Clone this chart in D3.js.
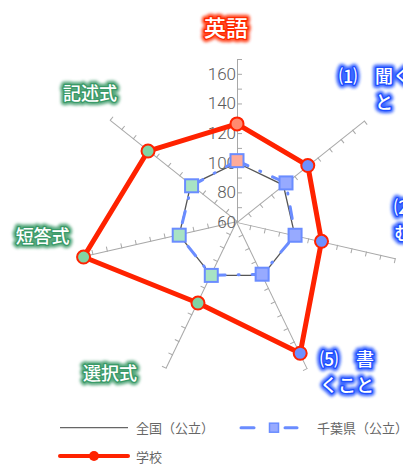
<!DOCTYPE html>
<html><head><meta charset="utf-8">
<script src="https://cdn.jsdelivr.net/npm/d3@7/dist/d3.min.js"></script>
<style>
html,body{margin:0;padding:0;background:#fff;}
svg{display:block;}
</style></head>
<body>
<svg id="chart" width="403" height="466"></svg>
<script>
// ---- data ----
const indicators = ["英語", "⑴　聞くこと", "⑵　読むこと", "⑸　書くこと", "選択式", "短答式", "記述式"];
const groups = ["total", "kanten", "kanten", "kanten", "keishiki", "keishiki", "keishiki"];
const zenkoku = [100, 100, 100, 100, 100, 100, 100];
const chiba = [101.4, 102.3, 100.2, 99.1, 100.0, 100.0, 99.2];
const school = [126.2, 121.1, 118.5, 158.3, 120.7, 166.2, 136.8];
const axisMin = 60, axisMax = 170;
const tickLabels = [60, 80, 100, 120, 140, 160];
const minorTicks = [70, 80, 90, 100, 110, 120, 130, 140, 150, 160, 170];
const seriesNames = ["全国（公立）", "千葉県（公立）", "学校"];

// ---- layout / style ----
const W = 403, H = 466, cx = 237, cy = 222, R = 163;
const labelRadius = 185;
const labelOffsets = [[-11, -11.5], [2.4, -18.7], [3.6, -43.7], [29.7, -17.7], [-46.7, -16.7], [-14, -28], [-2.4, -14.2]];
const wrapChars = [3, 5, 3, 3, 3, 3, 3];
const glow = {total: "#ff2a00", kanten: "#1f4fff", keishiki: "#3a9a68"};
const circleFill = {total: "#ff8a70", kanten: "#6e8fff", keishiki: "#80d4a4"};
const squareFill = {total: "#ffab9a", kanten: "#97aaff", keishiki: "#a8e3c4"};
const cjk = "'Noto Sans CJK JP','Noto Sans CJK SC',sans-serif";

const svg = d3.select("#chart");
const n = indicators.length;
const angle = i => i * 2 * Math.PI / n;
const r = d3.scaleLinear().domain([axisMin, axisMax]).range([0, R]);
const rAxis = d3.scaleLinear().domain([axisMin, axisMax]).range([0, -R]);
const pos = (v, i) => [cx + r(v) * Math.sin(angle(i)), cy - r(v) * Math.cos(angle(i))];

// axes
const axesG = svg.append("g");
indicators.forEach((name, i) => {
  const g = axesG.append("g")
    .attr("transform", `translate(${cx},${cy}) rotate(${angle(i) * 180 / Math.PI})`);
  g.call(d3.axisRight(rAxis).tickValues(minorTicks).tickSize(5).tickSizeOuter(0).tickFormat(""));
  g.selectAll("path.domain").attr("stroke", "#a8a8a8").attr("stroke-width", 1);
  g.selectAll(".tick line").attr("stroke", "#a8a8a8").attr("stroke-width", 1);
});
// radial tick labels on first axis
const lblG = svg.append("g").attr("transform", `translate(${cx},${cy})`)
  .call(d3.axisLeft(rAxis).tickValues(tickLabels).tickSize(0).tickPadding(1).tickFormat(d3.format("d")));
lblG.select("path.domain").remove();
lblG.selectAll("text").attr("font-family", "Roboto, sans-serif").attr("font-weight", 300)
  .attr("font-size", 17).attr("fill", "#5a5a5a");

const line = d3.lineRadial()
  .angle((d, i) => angle(i))
  .radius(d => r(d))
  .curve(d3.curveLinearClosed);

// 全国
svg.append("path").datum(zenkoku)
  .attr("transform", `translate(${cx},${cy})`)
  .attr("d", line).attr("fill", "none").attr("stroke", "#555").attr("stroke-width", 1.3);

// 千葉県
svg.append("path").datum(chiba)
  .attr("transform", `translate(${cx},${cy})`)
  .attr("d", line).attr("fill", "none").attr("stroke", "#6a8cff").attr("stroke-width", 3)
  .attr("stroke-dasharray", "12,13,1,13").attr("stroke-linecap", "round");
svg.append("g").selectAll("rect").data(chiba).join("rect")
  .attr("x", (d, i) => pos(d, i)[0] - 6.5).attr("y", (d, i) => pos(d, i)[1] - 6.5)
  .attr("width", 13).attr("height", 13)
  .attr("fill", (d, i) => squareFill[groups[i]]).attr("stroke", "#6a8cff").attr("stroke-width", 2);

// 学校
svg.append("path").datum(school)
  .attr("transform", `translate(${cx},${cy})`)
  .attr("d", line).attr("fill", "none").attr("stroke", "#ff2200").attr("stroke-width", 5)
  .attr("stroke-linejoin", "round");
svg.append("g").selectAll("circle").data(school).join("circle")
  .attr("cx", (d, i) => pos(d, i)[0]).attr("cy", (d, i) => pos(d, i)[1]).attr("r", 6.5)
  .attr("fill", (d, i) => circleFill[groups[i]]).attr("stroke", "#ff2200").attr("stroke-width", 2);

// indicator labels (white text with coloured glow)
const defs = svg.append("defs");
defs.append("filter").attr("id", "blur").attr("x", "-20%").attr("y", "-20%").attr("width", "140%").attr("height", "140%")
  .append("feGaussianBlur").attr("stdDeviation", 1.6);
indicators.forEach((name, i) => {
  const a = angle(i);
  const x = cx + labelRadius * Math.sin(a) + labelOffsets[i][0];
  const y = cy - labelRadius * Math.cos(a) + labelOffsets[i][1];
  const lines = [];
  for (let k = 0; k < name.length; k += wrapChars[i]) lines.push(name.slice(k, k + wrapChars[i]));
  const fs = i === 0 ? 22 : 18, lh = 26;
  const col = glow[groups[i]];
  [0, 1].forEach(layer => {
    const t = svg.append("text").attr("text-anchor", "middle").attr("font-family", cjk)
      .attr("font-size", fs).attr("font-weight", 500);
    if (layer === 0) {
      t.attr("fill", col).attr("stroke", col).attr("stroke-width", 7).attr("stroke-linejoin", "round")
        .attr("filter", "url(#blur)").attr("opacity", 0.85);
    } else {
      t.attr("fill", "#fff").attr("stroke", col).attr("stroke-width", 2.6).attr("stroke-linejoin", "round")
        .attr("paint-order", "stroke");
    }
    lines.forEach((s, k) => {
      t.append("tspan").attr("x", x).attr("y", y + (k - (lines.length - 1) / 2) * lh)
        .attr("dominant-baseline", "central").text(s);
    });
  });
});

// legend
const lg = svg.append("g").attr("font-family", cjk).attr("font-size", 13).attr("fill", "#666");
const ly1 = 427.7, ly2 = 456;
lg.append("line").attr("x1", 60).attr("x2", 128).attr("y1", ly1).attr("y2", ly1)
  .attr("stroke", "#666").attr("stroke-width", 1.3);
lg.append("text").attr("x", 136).attr("y", ly1).attr("dominant-baseline", "central").text(seriesNames[0]);
lg.append("line").attr("x1", 241).attr("x2", 254).attr("y1", ly1).attr("y2", ly1)
  .attr("stroke", "#6a8cff").attr("stroke-width", 3).attr("stroke-linecap", "round");
lg.append("line").attr("x1", 285).attr("x2", 297).attr("y1", ly1).attr("y2", ly1)
  .attr("stroke", "#6a8cff").attr("stroke-width", 3).attr("stroke-linecap", "round");
lg.append("rect").attr("x", 269.5).attr("y", ly1 - 4.5).attr("width", 9).attr("height", 9)
  .attr("fill", "#97aaff").attr("stroke", "#6a8cff").attr("stroke-width", 1.5);
lg.append("text").attr("x", 317).attr("y", ly1).attr("dominant-baseline", "central").text(seriesNames[1]);
lg.append("line").attr("x1", 60).attr("x2", 128).attr("y1", ly2).attr("y2", ly2)
  .attr("stroke", "#ff2200").attr("stroke-width", 4).attr("stroke-linecap", "round");
lg.append("circle").attr("cx", 94).attr("cy", ly2).attr("r", 5).attr("fill", "#ff2200");
lg.append("text").attr("x", 136).attr("y", ly2).attr("dominant-baseline", "central").text(seriesNames[2]);
</script>
</body></html>
